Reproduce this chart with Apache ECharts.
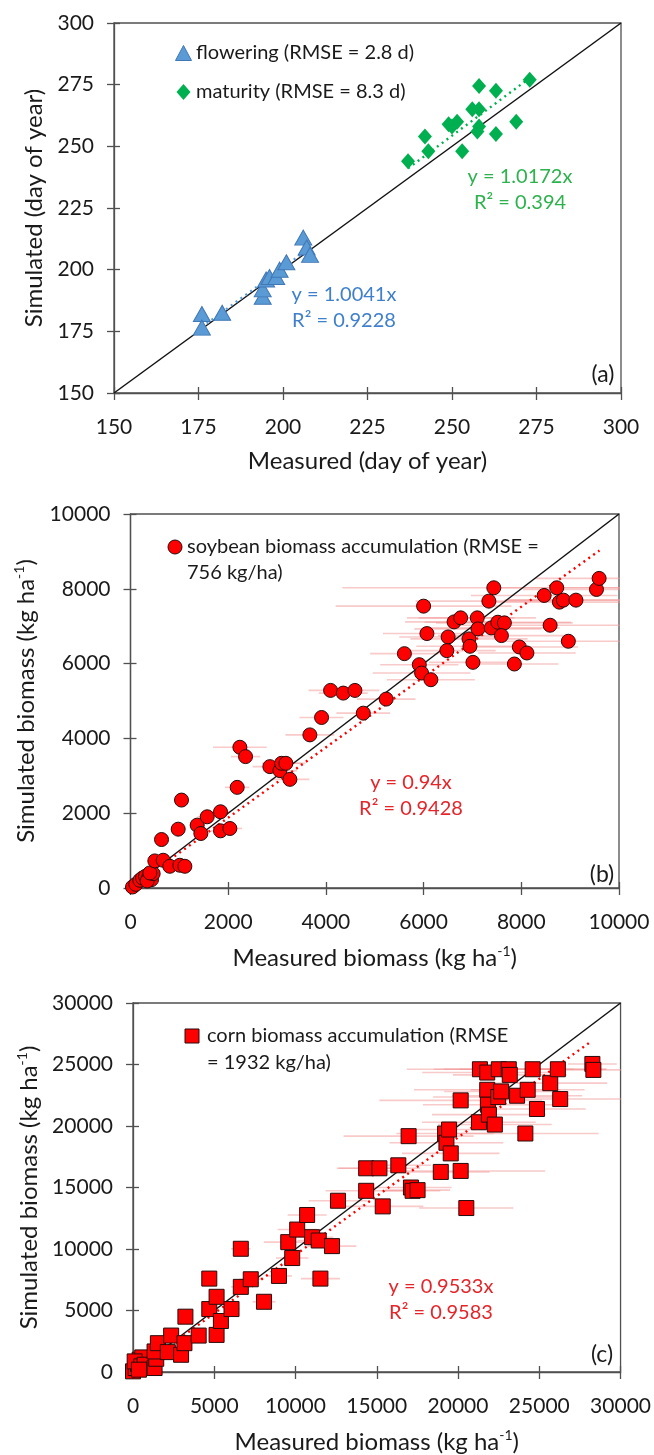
<!DOCTYPE html>
<html>
<head>
<meta charset="utf-8">
<script src="https://cdn.jsdelivr.net/npm/echarts/dist/echarts.min.js"></script>
<style>
  html, body { margin: 0; padding: 0; background: #ffffff; }
  #chart { width: 654px; height: 1455px; }
</style>
</head>
<body>
<div id="chart"></div>
<script>
// ---------- Panel (a): phenology dates (day of year) ----------
const floweringMeasured  = [176, 176, 182, 194, 194, 195, 196, 198, 199, 201, 206, 207, 208];
const floweringSimulated = [182, 176.5, 182.5, 189, 192, 196, 197, 197, 200, 203, 213, 209, 206];
const maturityMeasured   = [237, 242, 243, 249, 250, 251.5, 253, 256, 258, 258, 257.5, 258, 263, 263, 269, 273];
const maturitySimulated  = [244, 254, 248, 259, 258, 260, 248, 265, 274.5, 265, 256, 258, 272.5, 255, 260, 277];
const floweringFit = { slope: 1.0041, r2: 0.9228, from: 176, to: 208 };
const maturityFit  = { slope: 1.0172, r2: 0.394,  from: 237, to: 273 };
const dayTicks = { min: 150, max: 300, interval: 25 };

// ---------- Panel (b): soybean biomass (kg/ha) ----------
const soyMeasured = [41, 109, 191, 246, 307, 375, 430, 341, 464, 396,
  498, 635, 669, 805, 976, 1010, 1113, 1044, 1365, 1440, 1570, 1843, 1843, 2034, 2184, 2239, 2355,
  2853, 3058, 3092, 3181, 3263, 3672, 3911, 4096, 4355, 4594, 4765,
  5234, 5607, 5912, 5959, 6149, 6000, 6068, 6502, 6475, 6624, 6759, 6929, 6949, 7010, 7098, 7112,
  7336, 7384, 7437, 7519, 7654, 7593, 7959, 8115, 7858, 8468, 8590, 8726, 8780, 8861, 9119, 8963, 9539, 9593];
const soySimulated = [27, 98, 206, 268, 313, 295, 223, 188, 384, 402,
  724, 1296, 742, 581, 1573, 608, 581, 2351, 1681, 1457, 1904, 2038, 1529, 1591, 2691, 3763, 3513,
  3245, 3138, 3334, 3334, 2905, 4094, 4559, 5283, 5211, 5283, 4675,
  5051, 6266, 5971, 5748, 5569, 7536, 6803, 6713, 6347, 7115, 7223, 6660, 6463, 6034, 7223, 6928,
  7670, 6954, 8027, 7106, 7089, 6749, 6445, 6284, 5989, 7822, 7026, 8027, 7643, 7697, 7697, 6597, 7983, 8278];
const soyMeasuredSd = [0, 0, 20, 30, 30, 40, 50, 30, 50, 40,
  60, 80, 80, 100, 120, 100, 120, 150, 150, 150, 200, 200, 200, 250, 250, 550, 300,
  350, 350, 400, 400, 400, 500, 450, 450, 500, 500, 550,
  600, 700, 800, 1000, 900, 1800, 900, 1000, 1000, 1000, 1100, 1200, 1100, 900, 1200, 1300,
  1500, 1400, 3100, 1500, 1400, 1300, 1200, 1000, 900, 1500, 1800, 1300, 1300, 1200, 1400, 1300, 1500, 1300];
const soyFit = { slope: 0.94, r2: 0.9428, from: 700, to: 9600 };
const soyTicks = { min: 0, max: 10000, interval: 2000 };

// ---------- Panel (c): corn biomass (kg/ha) ----------
const cornMeasured = [0, 163, 306, 408, 571, 102, 510, 714, 367,
  1327, 1429, 1327, 1531, 2143, 2347, 2959, 3164, 3225, 4041, 4694, 4694, 5143, 5143, 5409, 6062,
  6633, 6633, 7246, 8062, 8981, 9552, 9797, 10103, 10715, 11021, 11430, 11532, 12246, 12613,
  14348, 14348, 15163, 15367, 16326, 16959, 17102, 17204, 17510, 18939, 19204, 19286, 19449, 19551,
  20163, 20163, 20510, 21286, 21347, 21796, 21796, 21837, 21898, 22265, 22469, 22653, 22510, 23122,
  23184, 23633, 24143, 24286, 24592, 24857, 25673, 26143, 26286, 28266, 28327];
const cornSimulated = [54, 323, 646, 996, 1185, 862, 458, 592, 189,
  323, 1077, 1670, 2343, 1616, 2962, 1400, 2343, 4497, 2962, 7594, 5117, 6113, 3016, 4147, 5117,
  10018, 6921, 7540, 5709, 7810, 10557, 9264, 11580, 12765, 10961, 10691, 7594, 10234, 13923,
  16562, 14731, 16562, 13465, 16804, 19174, 15000, 14731, 14785, 16266, 19389, 18636, 19713, 17774,
  16347, 22083, 13330, 20305, 24614, 24345, 22944, 21732, 20924, 20116, 22352, 22810, 24614, 24614,
  24156, 22460, 19389, 22944, 24614, 21382, 23483, 24614, 22191, 25045, 24560];
const cornMeasuredSd = [0, 0, 50, 50, 80, 0, 60, 80, 40,
  100, 100, 120, 150, 200, 250, 250, 300, 300, 350, 400, 400, 450, 450, 500, 500,
  600, 600, 700, 700, 800, 1500, 1000, 1200, 1200, 1300, 1300, 1200, 1500, 1800,
  1800, 2500, 2500, 2500, 2000, 4000, 2500, 1700, 2000, 3000, 3000, 3500, 3000, 3000,
  5200, 5000, 2900, 3500, 4500, 4000, 4500, 4000, 3500, 3500, 4000, 3500, 4000, 4000,
  3500, 4000, 4500, 3500, 4500, 3000, 3500, 3000, 4000, 1500, 2000];
const cornFit = { slope: 0.9533, r2: 0.9583, from: 2500, to: 28200 };
const cornTicks = { min: 0, max: 30000, interval: 5000 };

// ---------- styling ----------
const FONT = 'Lato';
const AXIS_COLOR = '#505050';
const TEXT_COLOR = '#1a1a1a';
const BLUE = '#5b9bd5', BLUE_TEXT = '#3f7fcc';
const GREEN = '#00b050', GREEN_TEXT = '#2db24e';
const RED = '#ff0000', RED_TEXT = '#e5252a';
const ERR_COLOR = 'rgba(244, 150, 150, 0.5)';

const grids = [
  { left: 114,   top: 23,   width: 507,   height: 370 },
  { left: 130.5, top: 514,  width: 488.5, height: 374 },
  { left: 133,   top: 1003, width: 488,   height: 371 }
];

const titleRich = {
  t: { fontFamily: FONT, fontSize: 24, color: TEXT_COLOR, lineHeight: 28 },
  s: { fontFamily: FONT, fontSize: 14, color: TEXT_COLOR, lineHeight: 28, verticalAlign: 'top' }
};

function outerAxis(dim, gi, ticks, name, nameGap) {
  return {
    gridIndex: gi, type: 'value', min: ticks.min, max: ticks.max, interval: ticks.interval,
    position: dim === 'x' ? 'bottom' : 'left',
    name: name, nameLocation: 'middle', nameGap: nameGap,
    nameTextStyle: { fontFamily: FONT, fontSize: 24, color: TEXT_COLOR, rich: titleRich },
    axisLine: { show: true, onZero: false, lineStyle: { color: AXIS_COLOR, width: 1.3 } },
    axisTick: { show: true, inside: false, length: 7, lineStyle: { color: AXIS_COLOR, width: 1.3 } },
    axisLabel: { show: true, margin: dim === 'x' ? 24 : 20, fontFamily: FONT, fontSize: 21,
                 color: TEXT_COLOR, formatter: (v) => String(v) },
    splitLine: { show: false }
  };
}
function innerAxis(dim, gi, ticks) {
  return {
    gridIndex: gi, type: 'value', min: ticks.min, max: ticks.max, interval: ticks.interval,
    position: dim === 'x' ? 'bottom' : 'left',
    axisLine: { show: false, onZero: false },
    axisTick: { show: true, inside: true, length: 6, lineStyle: { color: AXIS_COLOR, width: 1.3 } },
    axisLabel: { show: false },
    splitLine: { show: false }
  };
}

const biomassX = '{t|Measured biomass (kg ha}{s|-1}{t|)}';
const biomassY = '{t|Simulated biomass (kg ha}{s|-1}{t|)}';
const xAxes = [
  outerAxis('x', 0, dayTicks, 'Measured (day of year)', 56),
  innerAxis('x', 0, dayTicks),
  outerAxis('x', 1, soyTicks, biomassX, 56),
  innerAxis('x', 1, soyTicks),
  outerAxis('x', 2, cornTicks, biomassX, 56),
  innerAxis('x', 2, cornTicks)
];
const yAxes = [
  outerAxis('y', 0, dayTicks, 'Simulated (day of year)', 65),
  innerAxis('y', 0, dayTicks),
  outerAxis('y', 1, soyTicks, biomassY, 81),
  innerAxis('y', 1, soyTicks),
  outerAxis('y', 2, cornTicks, biomassY, 83),
  innerAxis('y', 2, cornTicks)
];

const zip = (xs, ys) => xs.map((x, i) => [x, ys[i]]);

function oneToOne(ai, ticks) {
  return {
    type: 'line', xAxisIndex: ai, yAxisIndex: ai, silent: true, z: 2,
    data: [[ticks.min, ticks.min], [ticks.max, ticks.max]],
    symbol: 'none', lineStyle: { color: '#111111', width: 1.5 }
  };
}
function trendLine(ai, fit, color) {
  return {
    type: 'line', xAxisIndex: ai, yAxisIndex: ai, silent: true, z: 2,
    data: [[fit.from, fit.slope * fit.from], [fit.to, fit.slope * fit.to]],
    symbol: 'none', lineStyle: { color: color, width: 2.4, type: [2, 4] }
  };
}
function errorBars(ai, xs, ys, sd) {
  return {
    type: 'custom', xAxisIndex: ai, yAxisIndex: ai, silent: true, z: 1, clip: true,
    data: xs.map((x, i) => [x, ys[i], sd[i]]),
    renderItem: function (params, api) {
      const x = api.value(0), y = api.value(1), e = api.value(2);
      const p0 = api.coord([x - e, y]);
      const p1 = api.coord([x + e, y]);
      return {
        type: 'line',
        shape: { x1: p0[0], y1: p0[1], x2: p1[0], y2: p1[1] },
        style: { stroke: ERR_COLOR, lineWidth: 1.6 }
      };
    }
  };
}

const series = [
  oneToOne(0, dayTicks),
  trendLine(0, floweringFit, BLUE),
  trendLine(0, maturityFit, GREEN),
  { name: 'flowering', type: 'scatter', xAxisIndex: 0, yAxisIndex: 0, z: 3,
    data: zip(floweringMeasured, floweringSimulated), symbol: 'triangle', symbolSize: [17, 15],
    itemStyle: { color: BLUE, borderColor: '#4077b5', borderWidth: 1, opacity: 1 } },
  { name: 'maturity', type: 'scatter', xAxisIndex: 0, yAxisIndex: 0, z: 3,
    data: zip(maturityMeasured, maturitySimulated), symbol: 'diamond', symbolSize: [14, 16],
    itemStyle: { color: GREEN, opacity: 1 } },

  errorBars(2, soyMeasured, soySimulated, soyMeasuredSd),
  oneToOne(2, soyTicks),
  trendLine(2, soyFit, RED),
  { name: 'soybean biomass accumulation', type: 'scatter', xAxisIndex: 2, yAxisIndex: 2, z: 3,
    data: zip(soyMeasured, soySimulated), symbol: 'circle', symbolSize: 14,
    itemStyle: { color: RED, borderColor: '#2a0a0a', borderWidth: 1, opacity: 1 } },

  errorBars(4, cornMeasured, cornSimulated, cornMeasuredSd),
  oneToOne(4, cornTicks),
  trendLine(4, cornFit, RED),
  { name: 'corn biomass accumulation', type: 'scatter', xAxisIndex: 4, yAxisIndex: 4, z: 3,
    data: zip(cornMeasured, cornSimulated), symbol: 'rect', symbolSize: 15,
    itemStyle: { color: RED, borderColor: '#2a0a0a', borderWidth: 1, opacity: 1 } }
];

// text helpers for the in-plot annotations
const txt = (x, y, text, color, size, align) => ({
  type: 'text', x: x, y: y, z: 10,
  style: { text: text, fill: color, fontFamily: FONT, fontSize: size,
           align: align || 'left', verticalAlign: 'middle' }
});
const eqText = (fit) => 'y = ' + fit.slope + 'x';
const r2Text = (fit) => 'R\u00b2 = ' + fit.r2;

const graphic = [
  // panel (a) key
  { type: 'polygon', z: 10, shape: { points: [[175.5, 60.5], [191.5, 60.5], [183.5, 45.5]] },
    style: { fill: BLUE, stroke: '#4077b5', lineWidth: 1 } },
  txt(196, 53, 'flowering (RMSE = 2.8 d)', TEXT_COLOR, 20),
  { type: 'polygon', z: 10, shape: { points: [[183.5, 84], [190.5, 92], [183.5, 100], [176.5, 92]] },
    style: { fill: GREEN } },
  txt(196, 92, 'maturity (RMSE = 8.3 d)', TEXT_COLOR, 20),
  txt(344, 295, eqText(floweringFit), BLUE_TEXT, 20, 'center'),
  txt(344, 321, r2Text(floweringFit), BLUE_TEXT, 20, 'center'),
  txt(520, 177, eqText(maturityFit), GREEN_TEXT, 20, 'center'),
  txt(520, 203, r2Text(maturityFit), GREEN_TEXT, 20, 'center'),
  txt(603, 375, '(a)', TEXT_COLOR, 23, 'center'),

  // panel (b) key
  { type: 'circle', z: 10, shape: { cx: 175, cy: 547, r: 7 },
    style: { fill: RED, stroke: '#2a0a0a', lineWidth: 1 } },
  txt(187, 547, 'soybean biomass accumulation (RMSE =', TEXT_COLOR, 20),
  txt(187, 573, '756 kg/ha)', TEXT_COLOR, 20),
  txt(411, 783, eqText(soyFit), RED_TEXT, 20, 'center'),
  txt(411, 809, r2Text(soyFit), RED_TEXT, 20, 'center'),
  txt(602, 875, '(b)', TEXT_COLOR, 23, 'center'),

  // panel (c) key
  { type: 'rect', z: 10, shape: { x: 185, y: 1029, width: 14, height: 14 },
    style: { fill: RED, stroke: '#2a0a0a', lineWidth: 1 } },
  txt(207, 1036, 'corn biomass accumulation (RMSE', TEXT_COLOR, 20),
  txt(207, 1063, '= 1932 kg/ha)', TEXT_COLOR, 20),
  txt(441, 1287, eqText(cornFit), RED_TEXT, 20, 'center'),
  txt(441, 1313, r2Text(cornFit), RED_TEXT, 20, 'center'),
  txt(602, 1355, '(c)', TEXT_COLOR, 23, 'center')
];

const chart = echarts.init(document.getElementById('chart'), null, { renderer: 'canvas' });
chart.setOption({
  backgroundColor: '#ffffff',
  animation: false,
  textStyle: { fontFamily: FONT },
  grid: grids.map(g => Object.assign({ show: true, borderColor: AXIS_COLOR, borderWidth: 1.3,
                                        backgroundColor: 'transparent', containLabel: false }, g)),
  xAxis: xAxes,
  yAxis: yAxes,
  series: series,
  graphic: graphic
});
</script>
</body>
</html>
